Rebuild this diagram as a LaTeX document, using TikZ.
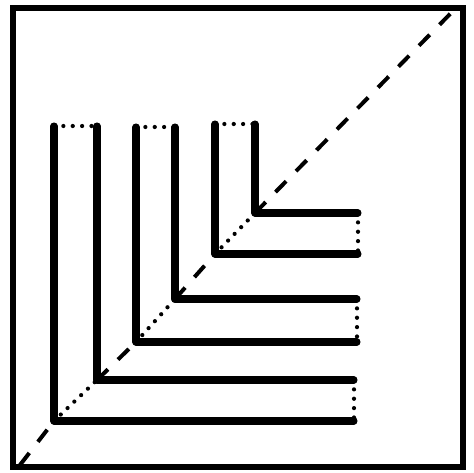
\documentclass[tikz,border=0pt]{standalone}
\begin{document}
\begin{tikzpicture}[x=0.03cm,y=-0.03cm,
  strip/.style={line width=6pt,line cap=round,line join=round},
  dotline/.style={line width=3.6pt,line cap=round,dash pattern=on 0pt off 8pt},
  diag/.style={line width=3.4pt,dash pattern=on 13pt off 12pt}]
\useasboundingbox (0,0) rectangle (474,472);
\draw[line width=5pt] (13,8) rectangle (463,467);

% three nested L strips: outer edge, inner edge, dotted open ends
\foreach \n/\ox/\oy/\ix/\iy/\top/\rx in {1/54/421/97/380/126/354,2/136/342/175/299/127/357,3/215/254/255/213/124/358}{
  \coordinate (o\n) at (\ox,\oy);
  \coordinate (i\n) at (\ix,\iy);
  \draw[strip] (\ox,\top) coordinate (ot\n) -- (o\n) -- (\rx,\oy) coordinate (oe\n);
  \draw[strip] (\ix,\top) coordinate (it\n) -- (i\n) -- (\rx,\iy) coordinate (ie\n);
  \draw[dotline] (ot\n) -- (it\n);
  \draw[dotline] (ie\n) -- (oe\n);
}

% diagonal: dashed outside the strips, dotted across them
\coordinate (bl) at (20,465);
\coordinate (tr) at (452,12);
\draw[diag] (bl) -- (o1);
\draw[dotline] (o1) -- (i1);
\draw[diag] (i1) -- (o2);
\draw[dotline] (o2) -- (i2);
\draw[diag] (i2) -- (o3);
\draw[dotline] (o3) -- (i3);
\draw[diag] (i3) -- (tr);
\end{tikzpicture}
\end{document}
